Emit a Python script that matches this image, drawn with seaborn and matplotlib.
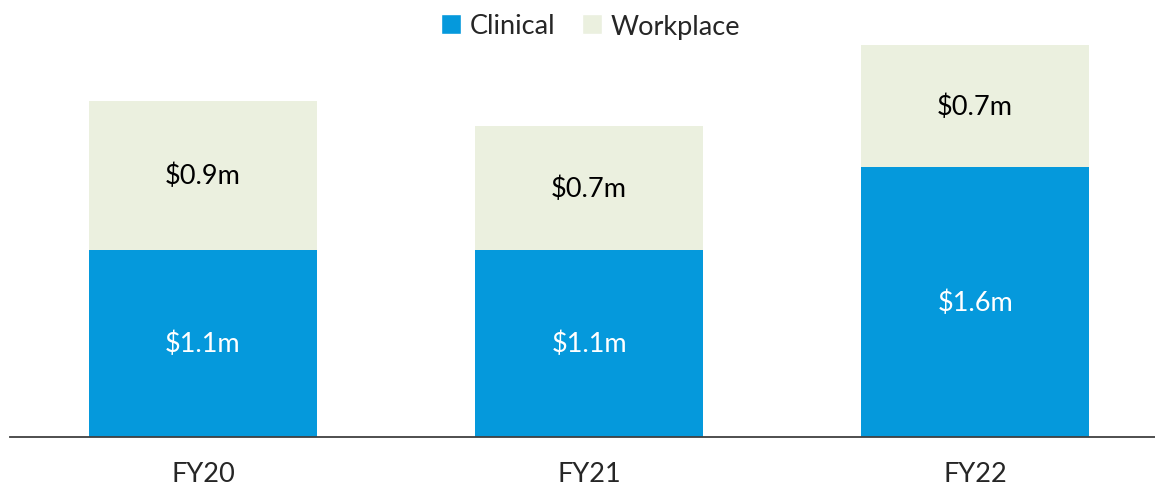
import matplotlib
matplotlib.use("Agg")
import matplotlib.pyplot as plt
import seaborn as sns
import pandas as pd
from matplotlib.patches import Patch

# Data (in $m)
years = ["FY20", "FY21", "FY22"]
clinical = [1.11, 1.11, 1.60]
workplace = [0.88, 0.73, 0.72]
clinical_labels = ["$1.1m", "$1.1m", "$1.6m"]
workplace_labels = ["$0.9m", "$0.7m", "$0.7m"]

BLUE = "#0599DC"
BEIGE = "#EBF0DF"
FS = 19.5

df = pd.DataFrame({"Year": years, "Clinical": clinical, "Workplace": workplace})
df["Total"] = df["Clinical"] + df["Workplace"]

sns.set_style("white")
plt.rcParams["font.family"] = ["Lato", "DejaVu Sans"]

fig = plt.figure(figsize=(11.55, 4.85), dpi=100)
ax = fig.add_axes([10 / 1155, 47 / 485, 1145 / 1155, 422 / 485])

# total bar first (workplace colour), clinical drawn over it
sns.barplot(data=df, x="Year", y="Total", color=BEIGE, width=0.59,
            saturation=1, ax=ax, linewidth=0)
sns.barplot(data=df, x="Year", y="Clinical", color=BLUE, width=0.59,
            saturation=1, ax=ax, linewidth=0)

for i in range(len(years)):
    ax.text(i, clinical[i] / 2, clinical_labels[i], ha="center", va="center",
            color="white", fontsize=FS)
    ax.text(i, clinical[i] + workplace[i] / 2, workplace_labels[i],
            ha="center", va="center", color="black", fontsize=FS)

ax.set_xlim(-0.5, 2.466)
ax.set_ylim(0, 2.5)
ax.set_xlabel("")
ax.set_ylabel("")
ax.set_yticks([])
ax.tick_params(axis="x", length=0, labelsize=FS, pad=17)
for s in ["top", "right", "left"]:
    ax.spines[s].set_visible(False)
ax.spines["bottom"].set_color("#404040")
ax.spines["bottom"].set_linewidth(1.3)

handles = [Patch(facecolor=BLUE, label="Clinical"),
           Patch(facecolor=BEIGE, label="Workplace")]
fig.legend(handles=handles, loc="center",
           bbox_to_anchor=(0.5 + 13 / 1155, 1 - 27 / 485),
           ncol=2, frameon=False, fontsize=FS, handlelength=0.75,
           handleheight=0.75, handletextpad=0.3, columnspacing=1.0)

fig.savefig("out.png", dpi=100)
